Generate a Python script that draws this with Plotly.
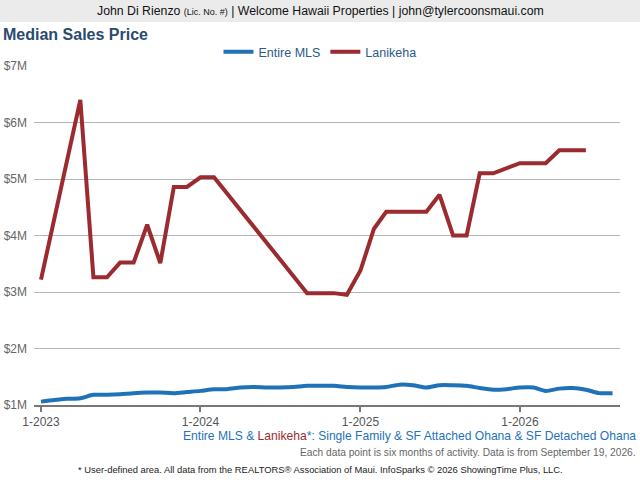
import plotly.graph_objects as go

months = [f"{2023 + m // 12}-{m % 12 + 1:02d}-01" for m in range(44)]

entire_mls = [1.06, 1.09, 1.11, 1.12, 1.18, 1.18, 1.19, 1.21, 1.22, 1.22,
              1.21, 1.23, 1.25, 1.28, 1.28, 1.31, 1.32, 1.31, 1.31, 1.32,
              1.34, 1.34, 1.34, 1.32, 1.31, 1.31, 1.32, 1.36, 1.35, 1.31,
              1.35, 1.35, 1.34, 1.30, 1.27, 1.28, 1.31, 1.31, 1.25, 1.29,
              1.30, 1.27, 1.21, 1.21]
entire_mls = [v * 1e6 for v in entire_mls]

lanikeha = [3.22, None, None, 6.40, 3.26, 3.26, 3.52, 3.52, 4.19, 3.51,
            4.86, 4.86, 5.03, 5.03, None, None, None, None, None, None,
            2.98, 2.98, 2.98, 2.95, 3.38, 4.12, 4.42, 4.42, 4.42, 4.42,
            4.72, 4.00, 4.00, 5.10, 5.10, None, 5.28, 5.28, 5.28, 5.51,
            5.51, 5.51, None, None]
lanikeha = [v * 1e6 if v is not None else None for v in lanikeha]

y_tickvals = [1e6, 2e6, 3e6, 4e6, 5e6, 6e6, 7e6]
y_ticktext = ["$1M", "$2M", "$3M", "$4M", "$5M", "$6M", "$7M"]
x_tickvals = ["2023-01-01", "2024-01-01", "2025-01-01", "2026-01-01"]
x_ticktext = ["1-2023", "1-2024", "1-2025", "1-2026"]

BLUE = "#1f72b8"
RED = "#9b2b2e"
FONT = "Liberation Sans, Arial, sans-serif"

W, H = 640, 480
L, R, T, B = 34, 20, 66, 75
pw, ph = W - L - R, H - T - B

def px_x(x):
    return (x - L) / pw

def px_y(y):
    return (H - B - y) / ph

fig = go.Figure()
fig.add_trace(go.Scatter(x=months, y=entire_mls, name="Entire MLS", mode="lines",
                         line=dict(color=BLUE, width=4, shape="spline", smoothing=0.8)))
fig.add_trace(go.Scatter(x=months, y=lanikeha, name="Lanikeha", mode="lines",
                         connectgaps=True,
                         line=dict(color=RED, width=4)))

fig.update_layout(
    width=W, height=H,
    margin=dict(l=L, r=R, t=T, b=B, pad=0, autoexpand=False),
    paper_bgcolor="white", plot_bgcolor="white",
    font=dict(family=FONT, size=12, color="#555"),
    showlegend=True,
    legend=dict(orientation="h", x=px_x(320), xanchor="center", y=px_y(52), yanchor="middle",
                font=dict(size=12.5, color="#2a5a8a"), itemwidth=30,
                bgcolor="rgba(0,0,0,0)"),
    xaxis=dict(type="date", range=["2022-12-16", "2026-08-18"], automargin=False,
               tickvals=x_tickvals, ticktext=x_ticktext,
               showgrid=False, showline=True, linecolor="#777", linewidth=2,
               ticks="outside", ticklen=5, tickwidth=2, tickcolor="#777",
               tickfont=dict(size=12, color="#555"), zeroline=False),
    yaxis=dict(range=[1e6, 7e6], tickvals=y_tickvals, ticktext=y_ticktext, automargin=False,
               showgrid=True, gridcolor="#b5b5b5", gridwidth=1,
               tickfont=dict(size=12, color="#666"), ticks="", ticklabelstandoff=6,
               zeroline=False, showline=False),
)

# header bar
fig.add_shape(type="rect", xref="paper", yref="paper",
              x0=px_x(0), x1=px_x(W), y0=px_y(22), y1=px_y(0),
              fillcolor="#ebebeb", line=dict(width=0), layer="below")
fig.add_annotation(xref="paper", yref="paper", x=px_x(320), y=px_y(11),
                   xanchor="center", yanchor="middle", showarrow=False,
                   text="John Di Rienzo <span style='font-size:9px'>(Lic. No. #)</span> | Welcome Hawaii Properties | john@tylercoonsmaui.com",
                   font=dict(size=12.3, color="#111"))
# title
fig.add_annotation(xref="paper", yref="paper", x=px_x(1), y=px_y(34),
                   xanchor="left", yanchor="middle", showarrow=False,
                   text="<b>Median Sales Price</b>",
                   font=dict(size=16, color="#2b4a6e"))
# subtitle lines
fig.add_annotation(xref="paper", yref="paper", x=px_x(638), y=px_y(436),
                   xanchor="right", yanchor="middle", showarrow=False,
                   text=f"Entire MLS & <span style='color:{RED}'>Lanikeha</span>*: Single Family & SF Attached Ohana & SF Detached Ohana",
                   font=dict(size=12.1, color=BLUE))
fig.add_annotation(xref="paper", yref="paper", x=px_x(638), y=px_y(452),
                   xanchor="right", yanchor="middle", showarrow=False,
                   text="Each data point is six months of activity. Data is from September 19, 2026.",
                   font=dict(size=10.2, color="#666"))
fig.add_annotation(xref="paper", yref="paper", x=px_x(320), y=px_y(469),
                   xanchor="center", yanchor="middle", showarrow=False,
                   text="* User-defined area. All data from the REALTORS® Association of Maui. InfoSparks © 2026 ShowingTime Plus, LLC.",
                   font=dict(size=9.4, color="#222"))

fig.write_html("out.html", config={"displayModeBar": False},
               post_script="document.body.style.margin='0';document.body.style.overflow='hidden';")
